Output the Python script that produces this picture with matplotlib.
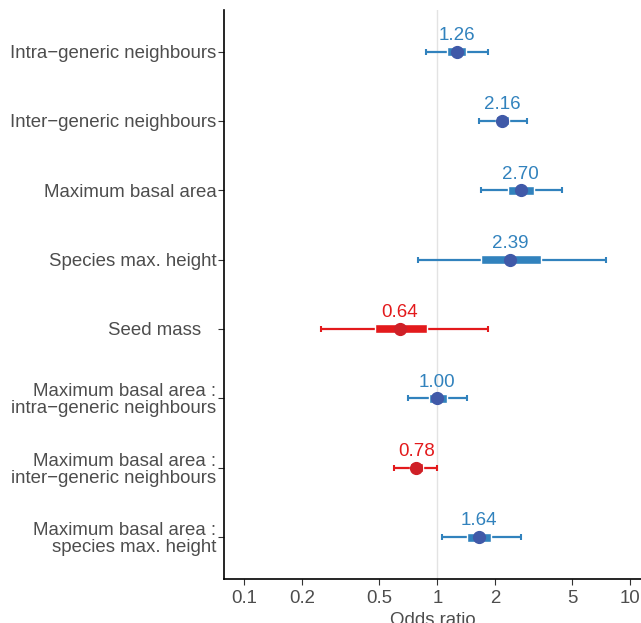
import numpy as np
import matplotlib
matplotlib.use('Agg')
import matplotlib.pyplot as plt

plt.rcParams['font.family'] = ['Liberation Sans', 'DejaVu Sans']

# model terms, top to bottom
terms = ['Intra\u2212generic neighbours',
         'Inter\u2212generic neighbours',
         'Maximum basal area',
         'Species max. height',
         'Seed mass   ',
         'Maximum basal area :\nintra\u2212generic neighbours',
         'Maximum basal area :\ninter\u2212generic neighbours',
         'Maximum basal area :\nspecies max. height']

odds = [1.26, 2.16, 2.70, 2.39, 0.64, 1.00, 0.78, 1.64]
# outer interval (thin line)
ci_lo = [0.874, 1.64, 1.69, 0.794, 0.251, 0.705, 0.597, 1.06]
ci_hi = [1.83, 2.90, 4.44, 7.48, 1.84, 1.43, 1.00, 2.71]
# inner interval (thick bar)
in_lo = [1.127, 2.01, 2.32, 1.68, 0.477, 0.902, 0.722, 1.43]
in_hi = [1.41, 2.36, 3.16, 3.44, 0.881, 1.118, 0.840, 1.905]

xticks = [0.1, 0.2, 0.5, 1, 2, 5, 10]
xticklabels = ['0.1', '0.2', '0.5', '1', '2', '5', '10']

blue_line = '#3182bd'
blue_dot = '#4059a8'
red_line = '#e31a1c'
red_dot = '#cf2027'

fig = plt.figure(figsize=(6.41, 6.23), dpi=100)
ax = fig.add_axes([0.3495, 0.0711, 0.6505, 0.913])

ypos = np.arange(1, len(terms) + 1)
odds = np.array(odds)
ci_lo = np.array(ci_lo)
ci_hi = np.array(ci_hi)
in_lo = np.array(in_lo)
in_hi = np.array(in_hi)

ax.axvline(1, color='#e3e3e3', lw=1, zorder=0)

for i in range(len(terms)):
    pos = odds[i] >= 1
    lc = blue_line if pos else red_line
    dc = blue_dot if pos else red_dot
    ax.errorbar(odds[i], ypos[i],
                xerr=[[odds[i] - ci_lo[i]], [ci_hi[i] - odds[i]]],
                fmt='none', ecolor=lc, elinewidth=1.6, capsize=2.2,
                capthick=1.5, zorder=2)
    ax.barh(ypos[i], in_hi[i] - in_lo[i], left=in_lo[i], height=0.13,
            color=lc, edgecolor='white', linewidth=1.0, zorder=3)
    ax.plot(odds[i], ypos[i], 'o', color=dc, ms=8.5, mec=dc, zorder=4)
    ax.annotate('%.2f' % odds[i], (odds[i], ypos[i]),
                xytext=(0, 5.5), textcoords='offset points',
                ha='center', va='bottom', color=lc, fontsize=13.5)

ax.set_xscale('log')
ax.set_xlim(0.0785, 11.36)
ax.set_ylim(8.6, 0.4)
ax.set_xticks(xticks)
ax.set_xticklabels(xticklabels)
ax.minorticks_off()
ax.set_yticks(ypos)
ax.set_yticklabels(terms, linespacing=1.0)

for s in ['top', 'right']:
    ax.spines[s].set_visible(False)
for s in ['left', 'bottom']:
    ax.spines[s].set_linewidth(1.2)
    ax.spines[s].set_color('black')

ax.tick_params(axis='both', length=4, width=0.8, color='#333333',
               labelcolor='#4d4d4d', labelsize=13.4, pad=1.5)
ax.tick_params(axis='x', pad=4)
ax.set_xlabel('Odds ratio', fontsize=13.4, color='#4d4d4d', labelpad=4)

fig.savefig('out.png', dpi=100)
